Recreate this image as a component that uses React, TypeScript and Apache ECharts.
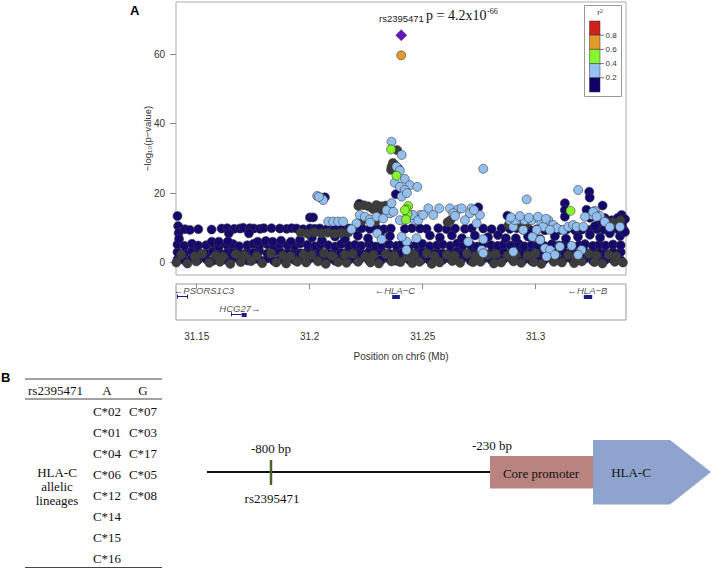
import React, { useEffect, useRef } from "react";
import * as echarts from "echarts";

// ---------- axes ----------
const X_MIN = 31.14084;
const X_MAX = 31.33996;
const Y_MIN = -3.6;
const Y_MAX = 75.07;
const xTicks = [31.15, 31.2, 31.25, 31.3];
const yTicks = [0, 20, 40, 60];

// positions are in kb offset from 31.14 Mb
const BASE_MB = 31.14;

// dense bottom band (r2 < 0.2, navy) columns
const bandKb = [1.5, 4.6, 7.9, 10.7, 14.2, 17.1, 19.8, 23.3, 26.1, 28.8, 32.4, 35.2, 37.7, 41.3, 44.1, 46.8, 50.2, 53.3, 55.9, 59.1, 62.4, 64.8, 68.2, 71.3, 73.9, 77.2, 80.1, 82.8, 86.3, 89.2, 91.8, 95.1, 98.4, 100.9, 104.2, 107.3, 109.8, 113.1, 116.4, 118.9, 122.2, 125.3, 127.8, 131.2, 134.1, 136.9, 140.3, 143.2, 145.8, 149.1, 152.4, 154.9, 158.2, 161.1, 163.8, 167.2, 170.3, 172.9, 176.1, 179.2, 181.8, 185.3, 188.1, 190.9, 194.2, 197.6];
const navyTopY = [5.2, 4.8, 5.4, 4.9, 5.0, 5.5, 4.6, 5.1, 5.3, 4.7, 5.0, 5.4, 4.9, 5.2, 4.6, 5.3, 5.0, 4.8, 5.5, 5.1, 4.7, 5.2, 5.0, 4.6, 5.3, 4.9, 5.1, 4.8, 5.4, 4.6, 5.0, 5.2, 4.8, 5.3, 4.9, 5.1, 5.4, 4.7, 5.0, 5.2, 4.8, 5.5, 4.9, 5.1, 4.6, 5.3, 5.0, 4.8, 5.2, 4.9, 5.4, 4.7, 5.1, 5.0, 4.8, 5.3, 4.9, 5.2, 4.6, 5.0, 5.3, 4.8, 5.1, 4.9, 5.2, 5.0];
const navyMidY = [3.0, 2.7, 3.3, 2.9, 2.6, 3.2, 3.0, 2.8, 3.4, 2.7, 3.1, 2.9, 3.3, 2.6, 3.0, 3.2, 2.8, 3.1, 2.7, 3.3, 2.9, 3.0, 2.6, 3.2, 2.8, 3.4, 3.0, 2.7, 3.1, 2.9, 3.3, 2.6, 3.0, 2.8, 3.2, 2.7, 3.1, 3.3, 2.9, 2.6, 3.0, 3.2, 2.8, 3.1, 3.4, 2.7, 2.9, 3.0, 3.3, 2.6, 3.1, 2.8, 3.2, 2.9, 3.0, 2.7, 3.3, 2.8, 3.1, 2.6, 3.0, 3.2, 2.9, 2.7, 3.1, 3.0];
const navyLowY = [0.9, 0.6, 1.2, 0.8, 1.0, 0.5, 1.1, 0.7, 1.3, 0.9, 0.6, 1.0, 0.8, 1.2, 0.5, 0.9, 1.1, 0.7, 1.0, 0.6, 1.2, 0.8, 0.9, 0.5, 1.1, 0.7, 1.0, 1.3, 0.6, 0.9, 0.8, 1.1, 0.5, 1.0, 0.7, 1.2, 0.9, 0.6, 1.1, 0.8, 1.0, 0.7, 1.3, 0.5, 0.9, 1.1, 0.8, 0.6, 1.0, 1.2, 0.7, 0.9, 0.5, 1.1, 0.8, 1.0, 0.6, 1.2, 0.9, 0.7, 1.1, 0.5, 1.0, 0.8, 0.9, 0.7];

// no-LD (gray) points inside the bottom band
const grayKbA = [3.2, 9.1, 12.5, 18.4, 21.7, 27.3, 31.0, 36.6, 42.8, 48.1, 51.5, 57.2, 60.8, 66.3, 69.9, 75.4, 79.0, 84.6, 88.1, 93.7, 97.3, 103.0, 106.1, 111.8, 115.2, 120.7, 124.0, 129.6, 133.2, 138.8, 142.1, 147.5, 151.0, 156.4, 159.8, 165.3, 168.9, 174.4, 177.8, 183.5, 186.9, 192.3, 195.7];
const grayYA = [2.2, 1.8, 2.5, 2.0, 1.7, 2.4, 2.1, 1.9, 2.6, 2.0, 1.8, 2.3, 2.1, 2.7, 1.9, 2.2, 2.5, 1.8, 2.1, 2.4, 2.0, 1.7, 2.3, 2.6, 1.9, 2.2, 2.0, 2.5, 1.8, 2.1, 2.4, 1.9, 2.2, 2.0, 2.6, 1.8, 2.3, 2.1, 1.9, 2.5, 2.0, 2.2, 1.8];
const grayKbB = [1.0, 5.9, 9.8, 15.6, 20.3, 24.9, 29.5, 34.1, 39.0, 45.2, 49.6, 54.5, 58.4, 63.7, 67.1, 72.6, 76.3, 81.4, 86.9, 90.6, 96.2, 100.1, 105.4, 108.6, 114.0, 117.5, 123.1, 126.6, 132.3, 135.6, 141.5, 144.7, 150.2, 153.6, 159.1, 162.5, 168.0, 171.6, 177.0, 180.4, 186.0, 189.5, 195.0, 198.6];
const grayYB = [0.0, -0.3, 0.3, -0.1, 0.2, -0.4, 0.1, 0.4, -0.2, 0.0, -0.3, 0.2, 0.0, 0.3, -0.4, 0.1, -0.1, 0.2, 0.0, -0.3, 0.3, 0.1, -0.2, 0.2, -0.4, 0.0, 0.4, -0.1, 0.1, 0.2, -0.3, 0.0, 0.3, -0.1, 0.1, -0.4, 0.2, 0.0, -0.2, 0.3, 0.1, -0.3, 0.2, 0.0];

// r2 < 0.2 (navy) upper points [kb, -log10 p]
const navyUpper = [
  [1.5, 13.4], [1.8, 10.5], [2.0, 8.5], [2.2, 6.8],
  [4.8, 9.6], [7.0, 9.4], [10.7, 9.6], [16.6, 9.5], [21.0, 9.8], [23.5, 9.9], [26.6, 9.7], [29.1, 9.8], [30.6, 10.0], [33.5, 9.9], [35.3, 9.8], [38.0, 9.7], [39.7, 9.9], [43.1, 9.9], [46.8, 9.8], [49.8, 9.7], [52.0, 9.9], [54.2, 9.8], [57.1, 9.6], [60.1, 9.8], [62.3, 9.7], [64.5, 9.8], [67.6, 9.6], [71.2, 9.9], [74.3, 9.7], [77.4, 9.8], [80.0, 9.6], [83.1, 9.9], [86.6, 9.7], [89.7, 9.8], [92.8, 9.6], [95.9, 9.8], [102.1, 9.7], [105.2, 9.9], [108.8, 9.8], [111.7, 9.7], [116.9, 9.9], [120.6, 9.6], [124.3, 9.8], [128.7, 9.7], [131.7, 9.9], [136.8, 9.8], [140.5, 9.6], [144.9, 9.8], [148.6, 9.7], [151.6, 9.9], [154.3, 9.5], [157.4, 9.4], [160.5, 9.6], [164.1, 9.3], [167.2, 9.5], [170.7, 9.4], [173.8, 9.6], [177.4, 9.3], [180.5, 9.5], [184.0, 9.4], [187.1, 9.6], [190.2, 9.5], [193.3, 9.3], [196.4, 9.6], [199.0, 9.4],
  [24.2, 8.4], [33.1, 8.4], [16.7, 6.0], [19.8, 6.0], [23.8, 6.1], [37.0, 6.0], [40.6, 6.2], [43.6, 6.0], [47.3, 6.3], [51.7, 6.0], [55.7, 6.5], [61.0, 7.2], [65.4, 6.4], [71.2, 7.5], [75.6, 6.8], [81.3, 7.7], [85.8, 7.0], [91.1, 8.2], [95.5, 7.6], [113.2, 7.8], [117.6, 7.2], [122.9, 7.8], [127.4, 7.0], [133.1, 7.8], [138.9, 7.3], [143.3, 7.9], [146.8, 7.0], [151.2, 7.0], [156.6, 7.5], [161.9, 6.8], [168.5, 7.6], [173.4, 6.9], [178.7, 7.4], [184.0, 8.0], [188.5, 7.2], [192.8, 8.4], [197.3, 7.6], [199.5, 8.8],
  [60.1, 13.0], [61.5, 13.0], [66.7, 18.8], [81.9, 16.9], [98.1, 19.7], [134.6, 15.9], [147.5, 13.5], [149.5, 12.5],
  [172.9, 17.1], [172.9, 15.1], [172.9, 13.2], [183.7, 20.4], [183.9, 18.7], [189.6, 16.4], [198.0, 13.7], [182.5, 15.2], [184.0, 12.9], [190.6, 12.8], [193.7, 12.2], [196.4, 12.9], [199.5, 12.5], [192.0, 11.3], [195.1, 11.0], [198.2, 10.8], [188.5, 11.8], [186.2, 10.5],
];

// no LD information (gray) upper points
const grayUpper = [
  [98.7, 32.4], [96.2, 27.6], [97.7, 28.1], [99.2, 27.1], [96.0, 26.7], [96.8, 28.7],
  [81.5, 16.3], [84.0, 16.5], [86.0, 16.2], [88.0, 15.4], [89.5, 16.6], [90.5, 14.8], [91.5, 16.2], [93.5, 16.4], [95.0, 15.8],
  [83.0, 12.0], [86.0, 12.4], [89.0, 11.8],
  [56.0, 8.6], [59.0, 8.3], [62.0, 8.7], [65.0, 8.4], [68.0, 8.6], [71.0, 8.3], [74.0, 8.5], [77.0, 8.6],
  [121.0, 11.6], [122.3, 12.2], [190.5, 12.0], [194.0, 11.6], [197.5, 12.1], [148.0, 10.8], [152.0, 10.5], [156.0, 10.9],
];

// 0.2 <= r2 < 0.4 (light blue)
const lightBlue = [
  [63.3, 19.2], [65.3, 18.5], [66.0, 18.0], [64.1, 18.9],
  [68.2, 11.8], [70.4, 11.8], [72.6, 11.8], [74.8, 11.8],
  [80.7, 11.3], [82.2, 13.7], [84.4, 13.2], [86.6, 12.4], [86.8, 11.5], [89.6, 13.2], [92.5, 12.7], [95.5, 14.2], [99.9, 12.2], [78.5, 9.6], [89.9, 8.4], [91.8, 6.7], [102.9, 6.0], [94.0, 15.1], [97.0, 14.6], [96.2, 17.1],
  [96.2, 34.8], [100.7, 31.0], [98.4, 27.6], [99.9, 26.5], [102.1, 24.1], [97.7, 23.0], [99.9, 21.8], [104.3, 22.3], [107.6, 21.8], [102.1, 20.9], [100.7, 19.0], [103.0, 20.0],
  [108.8, 13.7], [112.5, 15.6], [117.3, 15.6], [114.7, 13.7], [106.5, 12.2], [105.7, 13.7], [108.0, 12.2], [110.2, 13.7], [100.7, 7.4], [107.3, 7.0], [102.8, 3.6],
  [122.0, 15.6], [125.7, 15.3], [127.2, 15.6], [123.5, 14.2], [131.6, 15.6], [130.9, 14.2], [128.7, 12.2], [135.3, 13.7], [133.9, 11.3], [124.3, 13.4], [132.7, 15.1],
  [136.8, 27.0], [156.0, 18.2], [178.8, 20.9],
  [136.8, 6.7], [130.1, 6.0], [136.1, 3.6], [136.8, 2.7],
  [148.6, 12.2], [151.6, 12.2], [150.1, 10.3],
  [150.8, 12.2], [155.2, 12.2], [158.2, 12.2], [161.9, 12.2], [165.6, 12.2], [167.8, 10.8], [169.3, 9.9], [172.2, 9.4], [174.4, 10.3], [176.6, 10.8], [178.1, 10.3], [181.1, 10.3], [163.3, 10.3], [166.3, 9.4], [154.5, 9.4], [160.4, 9.4],
  [149.0, 13.0], [153.0, 13.4], [157.0, 12.9], [161.0, 13.2], [164.5, 12.6], [158.5, 7.4], [162.0, 6.5],
  [186.2, 14.9], [188.5, 13.4], [184.8, 13.7], [181.8, 13.2], [185.4, 14.6], [187.0, 13.2], [197.3, 10.3], [190.6, 11.7], [192.8, 10.2],
  [164.1, 4.1], [166.3, 3.6], [168.5, 2.2], [170.7, 4.6], [164.8, 1.7], [175.9, 4.8], [180.3, 3.6], [178.8, 2.2], [150.1, 3.1],
];

// 0.4 <= r2 < 0.6 (green)
const green = [[96.0, 32.6], [98.4, 25.0], [103.6, 16.3], [102.9, 15.3], [103.2, 14.0], [102.6, 12.4], [102.1, 15.1], [175.4, 14.9]];
// 0.6 <= r2 < 0.8 (orange)
const orange = [[100.5, 59.7]];
// lead SNP rs2395471
const lead = [[100.5, 65.5]];

// legend
const legendColors = ["#d21f1f", "#e19a2c", "#86f72e", "#97c1ef", "#12006a"];
const legendTicks = ["0.8", "0.6", "0.4", "0.2"];

// gene track (kb from 31.14 Mb, track row)
const geneLabels = [
  { name: "←PSORS1C3", kb: 13.2, row: 6 },
  { name: "HCG27→", kb: 29.1, row: 24.3 },
  { name: "←HLA−C", kb: 97.7, row: 6 },
  { name: "←HLA−B", kb: 182.9, row: 6 },
];
const geneIntrons = [
  { from: 1.4, to: 5.8, row: 12.7 },
  { from: 25.4, to: 29.9, row: 30.3 },
];
const geneExons = [
  { from: 29.9, to: 32.1, row: 30.3 },
  { from: 96.5, to: 99.9, row: 12.7 },
  { from: 181.3, to: 185.0, row: 12.7 },
];

// panel B
const tableHeader = ["rs2395471", "A", "G"];
const alleleA = ["C*02", "C*01", "C*04", "C*06", "C*12", "C*14", "C*15", "C*16"];
const alleleG = ["C*07", "C*03", "C*17", "C*05", "C*08"];
const lineageLabel = ["HLA-C", "allelic", "lineages"];

const SERIF = '"Liberation Serif", "Times New Roman", serif';
const SANS = '"Liberation Sans", Arial, sans-serif';

const NAVY = "#12086e";
const GRAY = "#3c3c3c";
const LBLUE = "#92bff0";
const GREEN = "#84f52c";
const ORANGE = "#e39a2a";
const PURPLE = "#6a12c6";
const GENE = "#1c1a86";

const toMb = (kb: number) => BASE_MB + kb / 1000;
const pts = (arr: number[][]) => arr.map(([k, y]) => [toMb(k), y]);
const zipPts = (kbs: number[], ys: number[]) =>
  kbs.map((k, i) => (ys[i] === undefined ? null : [toMb(k), ys[i]])).filter(Boolean) as number[][];

function txt(text: string, x: number, y: number, font: string, align = "left", va = "middle", fill = "#111") {
  return {
    type: "text",
    x,
    y,
    silent: true,
    style: { text, font, fill, textAlign: align, textVerticalAlign: va, align, verticalAlign: va },
  };
}
function ln(x1: number, y1: number, x2: number, y2: number, stroke: string, lineWidth: number) {
  return { type: "line", silent: true, shape: { x1, y1, x2, y2 }, style: { stroke, lineWidth } };
}

function scatter(name: string, data: number[][], color: string, z = 2, symbol = "circle", size = 9) {
  return {
    name,
    type: "scatter",
    xAxisIndex: 0,
    yAxisIndex: 0,
    data,
    symbol,
    symbolSize: size,
    z,
    silent: true,
    itemStyle: { color, borderColor: "#3a3a3a", borderWidth: 0.6, opacity: 1 },
  };
}

export default function App() {
  const ref = useRef<HTMLDivElement>(null);
  useEffect(() => {
    if (!ref.current) return;
    const chart = echarts.init(ref.current, undefined, { renderer: "svg" });

    const graphics: any[] = [];
    // panel labels
    graphics.push(txt("A", 130, 10, `bold 13px ${SANS}`, "left", "middle", "#000"));
    graphics.push(txt("B", 1, 377, `bold 13px ${SANS}`, "left", "middle", "#000"));
    // annotation
    graphics.push(txt("rs2395471", 379, 18, `9.5px ${SANS}`, "left", "middle", "#222"));
    graphics.push(txt("p = 4.2x10", 426, 15.5, `14px ${SERIF}`, "left", "middle", "#111"));
    graphics.push(txt("-66", 487, 11, `8px ${SERIF}`, "left", "middle", "#111"));
    // legend
    graphics.push({ type: "rect", silent: true, shape: { x: 584.5, y: 5.5, width: 37, height: 91 }, style: { fill: "#fff", stroke: "#999", lineWidth: 1 } });
    graphics.push(txt("r²", 600, 12, `8px ${SANS}`, "center", "middle", "#333"));
    legendColors.forEach((c, i) => {
      graphics.push({ type: "rect", silent: true, shape: { x: 589.5, y: 21 + i * 14.2, width: 10.5, height: 14.2 }, style: { fill: c, stroke: "#333", lineWidth: 0.5 } });
    });
    legendTicks.forEach((t, i) => {
      const y = 21 + (i + 1) * 14.2;
      graphics.push(ln(600, y, 604, y, "#555", 0.8));
      graphics.push(txt(t, 605.5, y, `8px ${SANS}`, "left", "middle", "#333"));
    });

    // table
    graphics.push(ln(25, 379, 162, 379, "#444", 1));
    graphics.push(ln(25, 399, 162, 399, "#444", 1));
    graphics.push(ln(25, 567.5, 162, 567.5, "#444", 1));
    graphics.push(txt(tableHeader[0], 28, 390, `13px ${SERIF}`, "left"));
    graphics.push(txt(tableHeader[1], 107, 390, `13px ${SERIF}`, "center"));
    graphics.push(txt(tableHeader[2], 143, 390, `13px ${SERIF}`, "center"));
    alleleA.forEach((a, i) => graphics.push(txt(a, 107, 411 + i * 21.05, `13px ${SERIF}`, "center")));
    alleleG.forEach((g, i) => graphics.push(txt(g, 143, 411 + i * 21.05, `13px ${SERIF}`, "center")));
    lineageLabel.forEach((l, i) => graphics.push(txt(l, 57, 472 + i * 14, `13px ${SERIF}`, "center")));

    // diagram
    graphics.push(ln(207, 472, 490, 472, "#111", 2));
    graphics.push(ln(271, 460, 271, 485, "#4f6228", 2.5));
    graphics.push({ type: "rect", silent: true, shape: { x: 490, y: 456, width: 103, height: 32.5 }, style: { fill: "#b9837f" } });
    graphics.push({ type: "polygon", silent: true, shape: { points: [[593, 440], [670, 440], [711, 472], [670, 504.5], [593, 504.5]] }, style: { fill: "#8fa3cf" } });
    graphics.push(txt("-800 bp", 271, 448, `13px ${SERIF}`, "center"));
    graphics.push(txt("rs2395471", 272, 498, `13px ${SERIF}`, "center"));
    graphics.push(txt("-230 bp", 492, 445, `13px ${SERIF}`, "center"));
    graphics.push(txt("Core promoter", 541, 473, `13px ${SERIF}`, "center"));
    graphics.push(txt("HLA-C", 631, 472, `13px ${SERIF}`, "center"));

    const option: any = {
      animation: false,
      grid: [
        { left: 176, top: 2, width: 450, height: 273, show: true, borderColor: "#aaa", borderWidth: 1, containLabel: false },
        { left: 176, top: 284, width: 450, height: 36, show: true, borderColor: "#999", borderWidth: 1, containLabel: false },
      ],
      xAxis: [
        { gridIndex: 0, type: "value", min: X_MIN, max: X_MAX, show: false },
        {
          gridIndex: 1,
          type: "value",
          min: X_MIN,
          max: X_MAX,
          axisLine: { show: false },
          axisTick: { show: true, length: 5, lineStyle: { color: "#888" }, customValues: xTicks },
          axisLabel: { show: true, customValues: xTicks, margin: 11, fontSize: 10, color: "#333", fontFamily: SANS },
          splitLine: { show: false },
          name: "Position on chr6 (Mb)",
          nameLocation: "middle",
          nameGap: 31,
          nameMoveOverlap: false,
          nameTextStyle: { fontSize: 10, color: "#333", fontFamily: SANS },
        },
      ],
      yAxis: [
        {
          gridIndex: 0,
          type: "value",
          min: Y_MIN,
          max: Y_MAX,
          axisLine: { show: false },
          axisTick: { show: true, length: 6, lineStyle: { color: "#888" }, customValues: yTicks },
          axisLabel: { show: true, customValues: yTicks, margin: 11, fontSize: 10, color: "#333", fontFamily: SANS },
          splitLine: { show: false },
          name: "−log₁₀(p−value)",
          nameLocation: "middle",
          nameRotate: 90,
          nameGap: 24,
          nameMoveOverlap: false,
          nameTextStyle: { fontSize: 9.5, color: "#333", fontFamily: SANS },
        },
        { gridIndex: 1, type: "value", min: 0, max: 36, inverse: true, show: false },
      ],
      graphic: { elements: graphics },
      series: [
        scatter("navyBand", [...zipPts(bandKb, navyLowY), ...zipPts(bandKb, navyMidY), ...zipPts(bandKb, navyTopY)], NAVY, 2),
        scatter("grayBand", [...zipPts(grayKbB, grayYB), ...zipPts(grayKbA, grayYA)], GRAY, 3),
        scatter("navyUpper", pts(navyUpper), NAVY, 4),
        scatter("grayUpper", pts(grayUpper), GRAY, 5),
        scatter("lightBlue", pts(lightBlue), LBLUE, 6),
        scatter("green", pts(green), GREEN, 7),
        scatter("orange", pts(orange), ORANGE, 8),
        scatter("lead", pts(lead), PURPLE, 9, "diamond", 11),
        {
          type: "lines",
          coordinateSystem: "cartesian2d",
          xAxisIndex: 1,
          yAxisIndex: 1,
          silent: true,
          lineStyle: { color: GENE, width: 1, opacity: 1 },
          data: [
            ...geneIntrons.map((g) => ({ coords: [[toMb(g.from), g.row], [toMb(g.to), g.row]] })),
            ...geneIntrons.flatMap((g) => [
              { coords: [[toMb(g.from), g.row - 2], [toMb(g.from), g.row + 2]] },
              ...(g.to > 10 ? [] : [{ coords: [[toMb(g.to), g.row - 2], [toMb(g.to), g.row + 2]] }]),
            ]),
          ],
        },
        {
          type: "lines",
          coordinateSystem: "cartesian2d",
          xAxisIndex: 1,
          yAxisIndex: 1,
          silent: true,
          lineStyle: { color: GENE, width: 4, opacity: 1 },
          data: geneExons.map((g) => ({ coords: [[toMb(g.from), g.row], [toMb(g.to), g.row]] })),
        },
        {
          type: "scatter",
          xAxisIndex: 1,
          yAxisIndex: 1,
          silent: true,
          symbolSize: 1,
          itemStyle: { color: "rgba(0,0,0,0)" },
          data: geneLabels.map((g) => ({ name: g.name, value: [toMb(g.kb), g.row] })),
          label: { show: true, position: "inside", formatter: "{b}", fontSize: 9.5, fontStyle: "italic", color: "#222", fontFamily: SANS },
        },
      ],
    };
    chart.setOption(option);
    return () => chart.dispose();
  }, []);
  return <div ref={ref} style={{ position: "fixed", left: 0, top: 0, width: 726, height: 570, background: "#fff" }} />;
}
